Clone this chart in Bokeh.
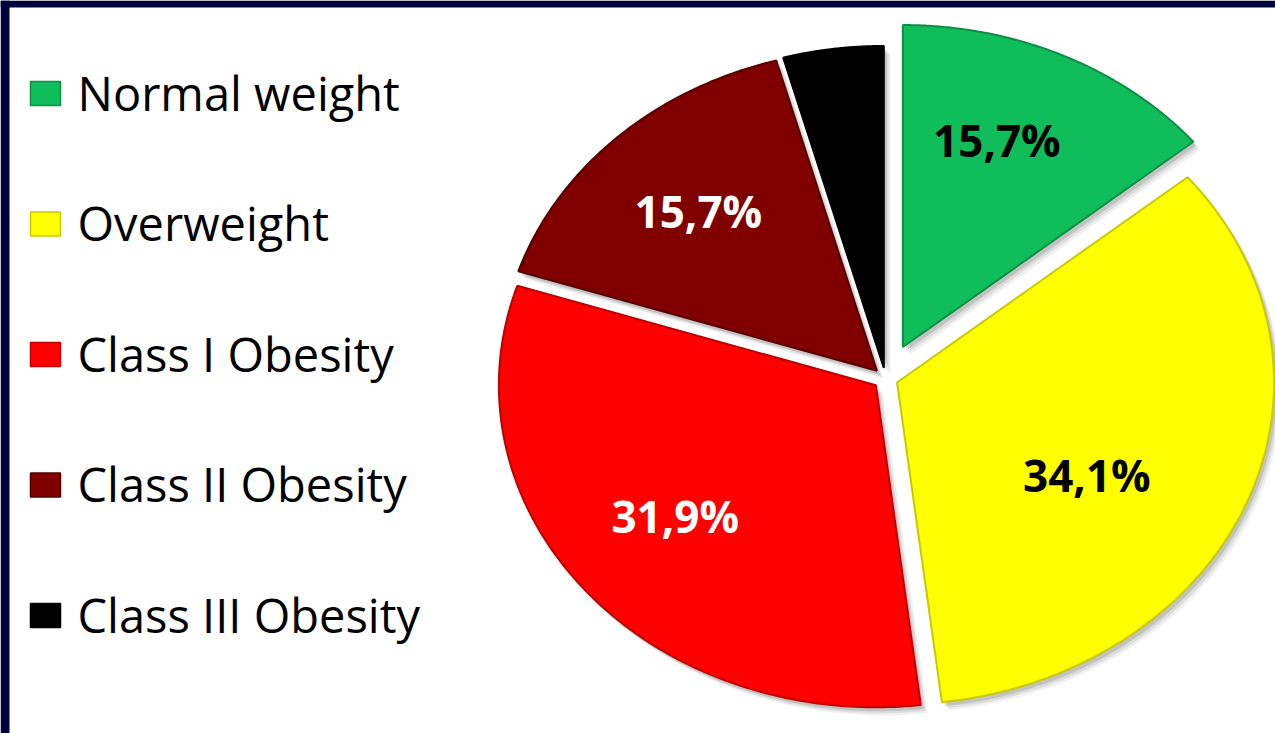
import numpy as np
from bokeh.plotting import figure
from bokeh.models import Range1d, ColumnDataSource
from bokeh.core.properties import value
from bokeh.embed import file_html
from bokeh.resources import INLINE

# ---- data ----
categories = ["Normal weight", "Overweight", "Class I Obesity", "Class II Obesity", "Class III Obesity"]
shares = [14.0, 34.1, 31.9, 15.7, 4.3]          # visible slice sizes (%)
pct_labels = ["15,7%", "34,1%", "31,9%", "15,7%", ""]

# ---- styles ----
colors = ["#10bd5b", "#ffff00", "#ff0000", "#800000", "#000000"]
edge_colors = ["#0a8f43", "#c9c900", "#c00000", "#560000", "#000000"]
label_colors = ["#000000", "#000000", "#ffffff", "#ffffff", "#ffffff"]
explode = [0.108, 0.033, 0.033, 0.033, 0.033]
label_r = [0.69, 0.58, 0.67, 0.685, 0.6]
label_dtheta = [-4, 8, 2, 0, 0]

W, H = 1275, 733
BL, BT = 9, 7
NAVY = "#00003d"
CX, CY = 885, 378
RX, RY = 377, 322

p = figure(width=W, height=H, x_range=Range1d(0, W), y_range=Range1d(H, 0),
           output_backend="svg", toolbar_location=None,
           x_axis_type=None, y_axis_type=None,
           min_border=0, border_fill_color="white",
           background_fill_color="white", outline_line_color=None)
p.grid.visible = False

# navy frame strips (top and left)
p.quad(left=[0, 0], right=[BL, W], top=[0, 0], bottom=[H, BT],
       fill_color=NAVY, line_color=None)

total = float(sum(shares))
xs, ys, lx, ly = [], [], [], []
start = 0.0
for i, s in enumerate(shares):
    a0 = start
    a1 = start + s / total * 2 * np.pi
    start = a1
    mid = (a0 + a1) / 2
    tx = CX + explode[i] * RX * np.sin(mid)
    ty = CY - explode[i] * RY * np.cos(mid)
    th = np.linspace(a0, a1, 140)
    xs.append([tx] + list(tx + RX * np.sin(th)))
    ys.append([ty] + list(ty - RY * np.cos(th)))
    la = mid + np.deg2rad(label_dtheta[i])
    lx.append(tx + label_r[i] * RX * np.sin(la))
    ly.append(ty - label_r[i] * RY * np.cos(la))

# soft shadows
for dx, dy, a in [(7, 8, 0.06), (5, 6, 0.08), (3, 4, 0.12)]:
    p.patches(xs=[list(np.array(x) + dx) for x in xs], ys=[list(np.array(y) + dy) for y in ys],
              fill_color="#000000", fill_alpha=a, line_color=None)

src = ColumnDataSource(dict(xs=xs, ys=ys, fill=colors, edge=edge_colors))
p.patches(xs="xs", ys="ys", fill_color="fill", line_color="edge", line_width=2, source=src)

lab_src = ColumnDataSource(dict(x=lx, y=ly, text=pct_labels, color=label_colors))
p.text(x="x", y="y", text="text", text_color="color", source=lab_src,
       text_font=value("Open Sans"), text_font_style="bold", text_font_size="44px",
       text_align="center", text_baseline="middle")

# ---- legend ----
ROW0, ROWSTEP = 93, 130.5
rows = np.arange(len(categories))
leg_src = ColumnDataSource(dict(
    x=[45] * len(categories),
    y=list(ROW0 + rows * ROWSTEP),
    tx=[77] * len(categories),
    ty=list(ROW0 - 1 + rows * ROWSTEP),
    text=categories, fill=colors, edge=edge_colors))
p.rect(x="x", y="y", width=30, height=24, fill_color="fill", line_color="edge",
       line_width=1.5, source=leg_src)
p.text(x="tx", y="ty", text="text", source=leg_src, text_color="#000000",
       text_font=value("Open Sans"), text_font_size="47px",
       text_align="left", text_baseline="middle")

open("out.html", "w").write(file_html(p, INLINE))
